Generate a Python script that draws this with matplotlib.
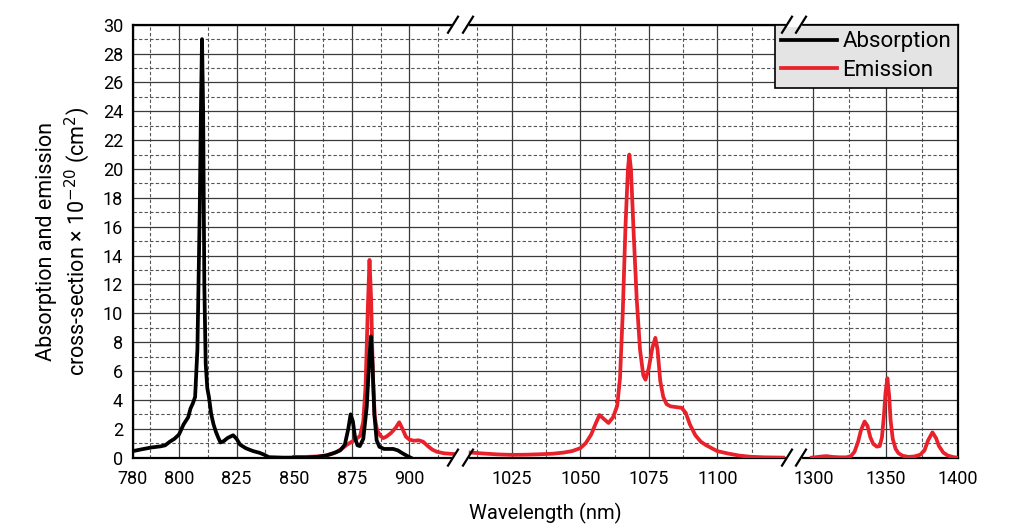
import matplotlib
matplotlib.use("Agg")
import matplotlib.pyplot as plt
from matplotlib.ticker import FixedLocator, MultipleLocator
from matplotlib.lines import Line2D

plt.rcParams['font.family'] = ['Roboto', 'DejaVu Sans']

# absorption spectrum (nm, 1e-20 cm^2)
abs_wl = [780, 784, 788, 792, 794, 796, 798, 800, 802, 804, 805, 806, 807, 808, 809,
          809.6, 810, 810.5, 811, 811.6, 812.3, 813, 814, 815, 816, 817, 818, 819.5,
          821, 823.5, 825, 826.5, 829, 832, 835, 837, 839, 845, 855, 860, 864, 867,
          870, 872, 873.5, 874.5, 875.5, 876.5, 877.5, 878.5, 880, 881.5, 882.5, 883.3,
          884, 884.8, 885.8, 887, 889, 893, 895, 897, 899, 900.5]
abs_val = [0.45, 0.58, 0.7, 0.78, 0.85, 1.1, 1.3, 1.6, 2.3, 2.8, 3.4, 3.75, 4.2, 7.5, 17,
           25, 29, 24, 12, 6.5, 4.8, 4.2, 3.0, 2.3, 1.8, 1.4, 1.05, 1.15,
           1.35, 1.55, 1.3, 0.9, 0.65, 0.46, 0.33, 0.2, 0.03, 0.0, 0.0, 0.05, 0.15, 0.3,
           0.5, 0.9, 2.0, 3.0, 2.5, 1.3, 0.85, 0.8, 1.3, 3.5, 6.5, 8.4,
           6.5, 3.0, 1.2, 0.75, 0.6, 0.6, 0.5, 0.3, 0.12, 0.0]

# emission spectrum, three windows
em1_wl = [850, 855, 860, 864, 868, 871, 873, 875, 877, 878.6, 880, 881, 882, 882.7,
          883.4, 884.2, 885, 886, 887.5, 888.7, 890, 892, 894, 895.6, 897, 898.5, 900,
          902, 904, 906, 908, 910, 912, 915, 919]
em1_val = [0.05, 0.05, 0.08, 0.15, 0.35, 0.65, 0.9, 1.1, 1.3, 1.5, 2.5, 5.0, 10.5, 13.7,
           11, 5.5, 2.8, 1.9, 1.5, 1.35, 1.45, 1.7, 2.05, 2.45, 2.0, 1.45, 1.25,
           1.17, 1.2, 1.1, 0.8, 0.55, 0.4, 0.3, 0.25]

em2_wl = [1010, 1015, 1020, 1025, 1030, 1035, 1040, 1044, 1047, 1050, 1052, 1054, 1055.5,
          1057, 1058.5, 1060.3, 1062, 1063.5, 1064.5, 1065.5, 1066.5, 1067.4, 1067.9,
          1068.5, 1069.5, 1070.6, 1071.8, 1073, 1073.8, 1075, 1076.3, 1077.4, 1078.2,
          1079.2, 1080.3, 1081.5, 1083, 1085, 1087, 1088.5, 1090, 1092, 1094, 1096, 1098,
          1100, 1104, 1108, 1112, 1117, 1124]
em2_val = [0.35, 0.28, 0.22, 0.19, 0.2, 0.23, 0.27, 0.35, 0.45, 0.65, 1.0, 1.6, 2.3,
           2.95, 2.7, 2.4, 2.8, 3.6, 5.5, 10, 16, 20, 21,
           20, 15.5, 11, 7.5, 5.7, 5.4, 6.2, 7.6, 8.3, 7.5,
           5.3, 4.2, 3.7, 3.55, 3.5, 3.45, 3.1, 2.3, 1.55, 1.1, 0.85, 0.65,
           0.45, 0.28, 0.14, 0.06, 0.02, 0.0]

em3_wl = [1299, 1302, 1306, 1309, 1313, 1318, 1323, 1326, 1328.5, 1331, 1333, 1335.5,
          1337.5, 1339.5, 1341.5, 1344, 1346, 1347.5, 1348.8, 1350, 1351.3, 1352.5, 1353.5,
          1355, 1357, 1359, 1362, 1366, 1370, 1374, 1377, 1379.5, 1382.5, 1385, 1387,
          1390, 1393, 1397, 1400]
em3_val = [0.0, 0.03, 0.08, 0.1, 0.05, 0.02, 0.02, 0.1, 0.4, 1.1, 1.9, 2.5,
           2.2, 1.4, 0.95, 0.76, 0.8, 1.4, 2.8, 4.5, 5.5, 4.3, 2.6,
           1.3, 0.6, 0.3, 0.12, 0.05, 0.08, 0.2, 0.5, 1.2, 1.75, 1.35, 0.8,
           0.35, 0.15, 0.03, 0.0]

seg_lims = [(780, 922.2), (1006.3, 1128.0), (1286.6, 1400)]
seg_major = [[780, 800, 825, 850, 875, 900], [1025, 1050, 1075, 1100], [1300, 1350, 1400]]
seg_minor = [[787.5, 812.5, 837.5, 862.5, 887.5, 912.5],
             [1012.5, 1037.5, 1062.5, 1087.5, 1112.5], [1325, 1375]]

W, H = 1024, 529
px_edges = [132.9, 460.5, 794, 957.7]
y_bot, y_top = 1 - 457.6 / H, 1 - 24.7 / H

fig = plt.figure(figsize=(W / 100, H / 100), dpi=100)
axes = []
for i in range(3):
    x0 = px_edges[i] / W
    w = (px_edges[i + 1] - px_edges[i]) / W
    ax = fig.add_axes([x0, y_bot, w, y_top - y_bot])
    ax.set_xlim(*seg_lims[i])
    ax.set_ylim(0, 30)
    ax.xaxis.set_major_locator(FixedLocator(seg_major[i]))
    ax.xaxis.set_minor_locator(FixedLocator(seg_minor[i]))
    ax.yaxis.set_major_locator(MultipleLocator(2))
    ax.yaxis.set_minor_locator(MultipleLocator(1))
    ax.grid(which='major', color='#3a3a3a', lw=0.9, ls='-')
    ax.grid(which='minor', color='#555555', lw=0.8, ls=(0, (3, 2)))
    ax.set_axisbelow(True)
    ax.tick_params(which='both', length=0, labelsize=13, colors='black')
    ax.tick_params(axis='x', pad=9)
    ax.tick_params(axis='y', pad=7)
    for s in ax.spines.values():
        s.set_linewidth(1.6)
        s.set_color('black')
    if i > 0:
        ax.spines['left'].set_visible(False)
        ax.tick_params(labelleft=False)
    if i < 2:
        ax.spines['right'].set_visible(False)
    axes.append(ax)

ax1, ax2, ax3 = axes
red = '#e8212b'
lw = 2.7
la, = ax1.plot(abs_wl, abs_val, color='black', lw=lw, zorder=4, label='Absorption')
le, = ax1.plot(em1_wl, em1_val, color=red, lw=lw, zorder=3, label='Emission')
ax2.plot(em2_wl, em2_val, color=red, lw=lw, zorder=3)
ax3.plot(em3_wl, em3_val, color=red, lw=lw, zorder=3)

ax1.set_ylabel('Absorption and emission\ncross-section × 10$^{-20}$ (cm$^2$)',
               fontsize=15.5, labelpad=8, linespacing=1.25)
fig.text(545 / W, 1 - 513 / H, 'Wavelength (nm)', fontsize=14.5, ha='center', va='center')

leg = fig.legend(handles=[la, le], loc='upper right',
                 bbox_to_anchor=(px_edges[3] / W, y_top), borderaxespad=0,
                 fontsize=16, frameon=True, fancybox=False, framealpha=1,
                 facecolor='#e4e4e4', edgecolor='black', handlelength=2.5,
                 handletextpad=0.25, borderpad=0.3, labelspacing=0.35)
leg.get_frame().set_linewidth(1.2)


# "//" axis-break marks on the top and bottom spines
def break_marks(cx_list, gap):
    for yp in (24.7, 457.6):
        yf = 1 - yp / H
        fig.add_artist(Line2D([gap[0] / W, gap[1] / W], [yf, yf], color='white', lw=3,
                              transform=fig.transFigure, zorder=10))
        for cx in cx_list:
            fig.add_artist(Line2D([(cx - 5) / W, (cx + 5) / W],
                                  [yf - 8 / H, yf + 8 / H], color='black', lw=1.6,
                                  transform=fig.transFigure, zorder=11))


break_marks([453, 468], (454, 467))
break_marks([787, 801], (788, 800))

fig.savefig('out.png', dpi=100)
